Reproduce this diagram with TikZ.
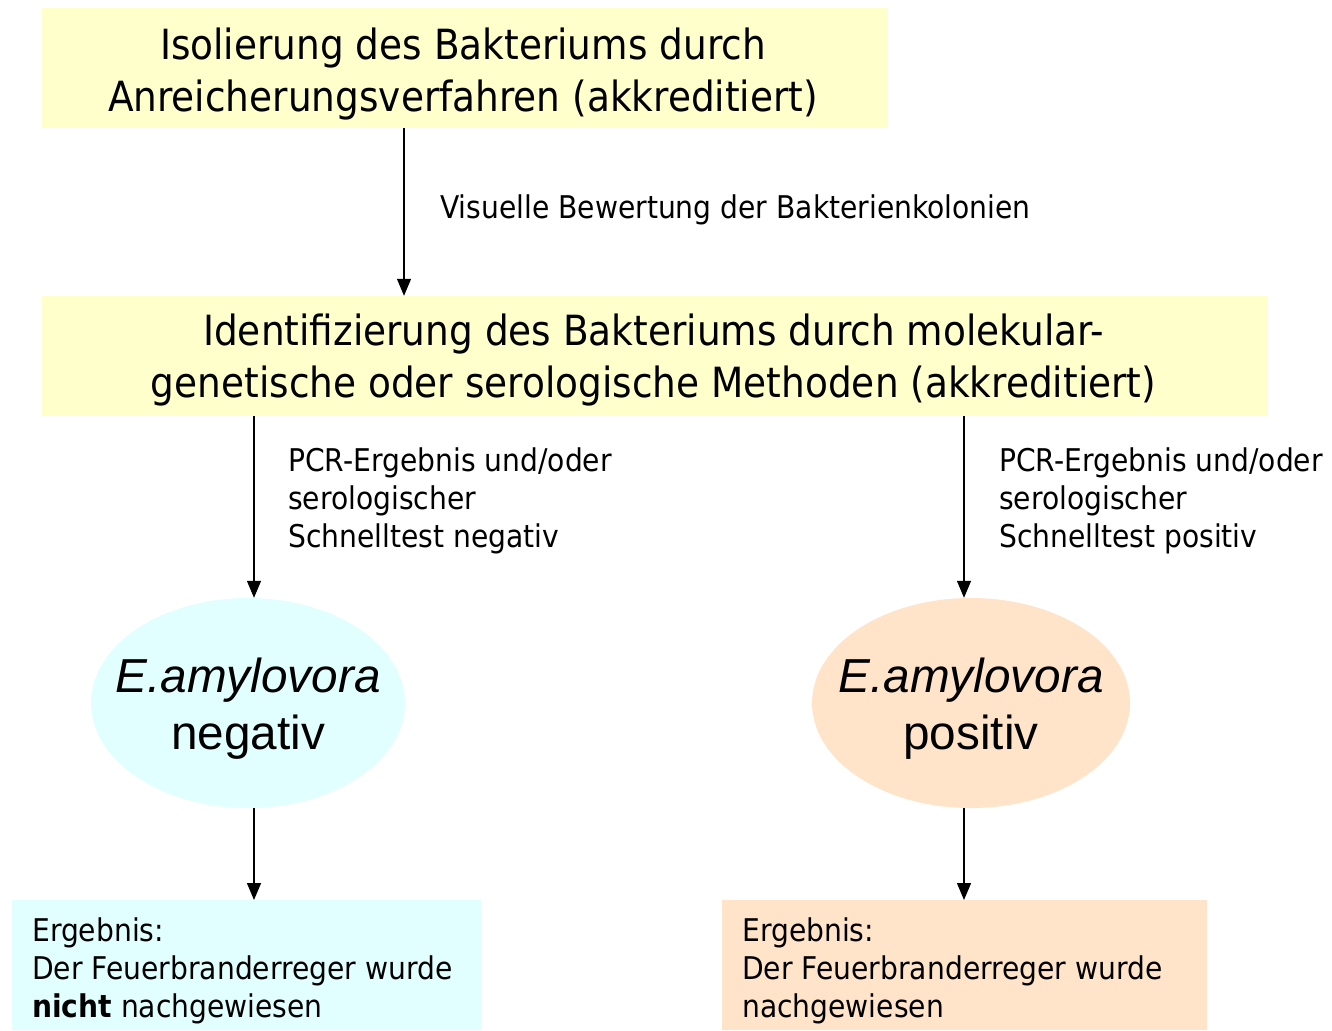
\documentclass[tikz,border=0pt]{standalone}
\usepackage{fontspec}
\setmainfont[FakeStretch=0.9]{DejaVu Sans}
\newfontfamily\arialf{Liberation Sans}
\usetikzlibrary{arrows.meta,shapes.geometric}
\definecolor{boxyellow}{HTML}{FFFFCC}
\definecolor{boxcyan}{HTML}{E2FFFF}
\definecolor{boxpeach}{HTML}{FFE4CA}
\tikzset{
  plainbox/.style={rectangle, inner sep=0pt},
  bigtxt/.style={inner sep=0pt, align=center, font=\fontsize{41.6}{52}\selectfont},
  restxt/.style={inner sep=0pt, align=left, anchor=west, font=\fontsize{31.3}{38}\selectfont},
  oval/.style={ellipse, inner sep=0pt},
  ovaltxt/.style={inner sep=0pt, align=center, font=\arialf\fontsize{47.7}{57}\selectfont},
  lbl/.style={inner sep=0pt, align=left, font=\fontsize{31.3}{38}\selectfont},
  arr/.style={-{Triangle[length=17pt,width=14pt]}, line width=1.3pt, black}
}
\begin{document}
\begin{tikzpicture}[x=1pt,y=-1pt]
\useasboundingbox (0,0) rectangle (1332,1030);
\node[plainbox, fill=boxyellow, minimum width=846pt, minimum height=120pt,
  label={[bigtxt, yshift=-6pt, xshift=-2pt]center:Isolierung des Bakteriums durch\\Anreicherungsverfahren (akkreditiert)}] (b1) at (465,68) {};
\node[plainbox, fill=boxyellow, minimum width=1225pt, minimum height=120pt,
  label={[bigtxt, yshift=-4pt, xshift=-1pt]center:Identifizierung des Bakteriums durch molekular-\\genetische oder serologische Methoden (akkreditiert)}] (b2) at (654.5,356) {};
\node[oval, fill=boxcyan, minimum width=314pt, minimum height=210pt,
  label={[ovaltxt, yshift=-6pt]center:{\itshape E.amylovora}\\negativ}] (e1) at (248,703) {};
\node[oval, fill=boxpeach, minimum width=318pt, minimum height=210pt,
  label={[ovaltxt, yshift=-6pt]center:{\itshape E.amylovora}\\positiv}] (e2) at (971,703) {};
\node[plainbox, fill=boxcyan, anchor=north west, minimum width=469pt, minimum height=130pt,
  label={[restxt, xshift=20pt, yshift=-6pt]west:Ergebnis:\\Der Feuerbranderreger wurde\\\textbf{nicht} nachgewiesen}] (r1) at (12,900) {};
\node[plainbox, fill=boxpeach, anchor=north west, minimum width=485pt, minimum height=130pt,
  label={[restxt, xshift=20pt, yshift=-6pt]west:Ergebnis:\\Der Feuerbranderreger wurde\\nachgewiesen}] (r2) at (722,900) {};
\coordinate (x1) at (404,0);
\coordinate (xl) at (254,0);
\coordinate (xr) at (964,0);
\draw[arr] (b1.south -| x1) -- (b2.north -| x1);
\draw[arr] (b2.south -| xl) -- (e1.north -| xl);
\draw[arr] (b2.south -| xr) -- (e2.north -| xr);
\draw[arr] (e1.south -| xl) -- (r1.north -| xl);
\draw[arr] (e2.south -| xr) -- (r2.north -| xr);
\node[lbl, anchor=west] (l1) at (440,210) {Visuelle Bewertung der Bakterienkolonien};
\node[lbl, anchor=north west] (l2) at (288,448) {PCR-Ergebnis und/oder\\serologischer\\Schnelltest negativ};
\node[lbl, anchor=north west] (l3) at (999,448) {PCR-Ergebnis und/oder\\serologischer\\Schnelltest positiv};
\end{tikzpicture}
\end{document}
